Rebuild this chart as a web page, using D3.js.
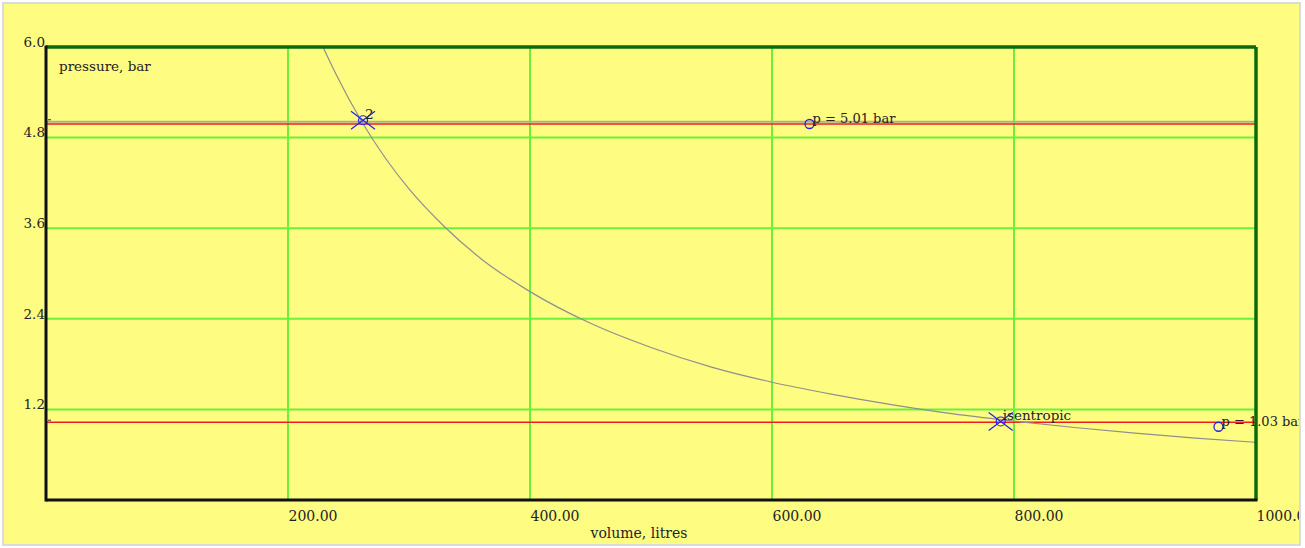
<!DOCTYPE html>
<html>
<head>
<meta charset="utf-8">
<script src="https://cdn.jsdelivr.net/npm/d3@7"></script>
<style>
  body { margin: 0; background: #fff; }
  text { font-family: "DejaVu Serif", "Liberation Serif", serif; fill: #222; }
</style>
</head>
<body>
<div id="chart"></div>
<script>
// volume (litres) and pressure (bar)
const curveVolume = [229, 240, 261, 280, 300, 330, 360, 400, 450, 500, 550, 600, 650, 700, 750, 800, 850, 900, 950, 1000]
const curvePressure = [6.0, 5.63, 5.01, 4.54, 4.12, 3.61, 3.19, 2.76, 2.34, 2.02, 1.76, 1.56, 1.40, 1.26, 1.14, 1.045, 0.96, 0.885, 0.82, 0.764]

const xTicks = [200, 400, 600, 800, 1000]
const yTicks = [1.2, 2.4, 3.6, 4.8, 6.0]

// state points: [volume, pressure, label]
const crossPoints = [[262, 5.03, '2'], [789, 1.04, 'isentropic']]
const circlePoints = [[631, 4.98, 'p = 5.01 bar'], [969, 0.97, 'p = 1.03 bar']]

// level lines
const greyLevels = [5.01]
const redLevels = [4.98, 1.03]

const W = 1305, H = 548
const x = d3.scaleLinear().domain([0, 1000]).range([46, 1256])
const y = d3.scaleLinear().domain([0, 6]).range([500, 47])

const svg = d3.select('#chart').append('svg')
    .attr('width', W)
    .attr('height', H)

svg.append('defs').append('clipPath').attr('id', 'frame')
    .append('rect').attr('x', 4).attr('y', 4).attr('width', 1295).attr('height', 540)

const g = svg.append('g').attr('clip-path', 'url(#frame)')

g.append('rect')
    .attr('x', 3).attr('y', 3).attr('width', 1297).attr('height', 542)
    .attr('fill', '#fffc82')

// grid
const grid = g.append('g')
grid.selectAll('line.vx')
    .data(xTicks.slice(0, -1))
    .join('line')
    .attr('x1', d => x(d)).attr('x2', d => x(d))
    .attr('y1', y(6)).attr('y2', y(0))
    .attr('stroke', '#6af23a').attr('stroke-width', 2)
grid.selectAll('line.hy')
    .data(yTicks.slice(0, -1))
    .join('line')
    .attr('x1', x(0)).attr('x2', x(1000))
    .attr('y1', d => y(d)).attr('y2', d => y(d))
    .attr('stroke', '#6af23a').attr('stroke-width', 2)

// levels
g.selectAll('line.grey')
    .data(greyLevels)
    .join('line')
    .attr('x1', x(0)).attr('x2', x(1000))
    .attr('y1', d => y(d)).attr('y2', d => y(d))
    .attr('stroke', '#b4ae8a').attr('stroke-width', 2)
g.selectAll('line.red')
    .data(redLevels)
    .join('line')
    .attr('x1', x(0)).attr('x2', x(1000))
    .attr('y1', d => y(d)).attr('y2', d => y(d))
    .attr('stroke', '#f21c1c').attr('stroke-width', 1.5)

// small marks at the left axis
g.selectAll('line.mark')
    .data([5.01, 1.03])
    .join('line')
    .attr('x1', x(0) + 2).attr('x2', x(0) + 5)
    .attr('y1', d => y(d) - 2).attr('y2', d => y(d) - 2)
    .attr('stroke', '#333').attr('stroke-width', 1)

// isentropic curve
const pts = curveVolume.map((v, i) => [v, curvePressure[i]])
g.append('path')
    .datum(pts)
    .attr('d', d3.line().x(d => x(d[0])).y(d => y(d[1])).curve(d3.curveMonotoneX))
    .attr('fill', 'none')
    .attr('stroke', '#8f8f8f')
    .attr('stroke-width', 1.2)

// frame of the plot
const frame = g.append('g')
frame.append('line')
    .attr('x1', x(0)).attr('x2', x(1000)).attr('y1', y(6)).attr('y2', y(6))
    .attr('stroke', '#0b6b0b').attr('stroke-width', 3.5)
frame.append('line')
    .attr('x1', x(1000)).attr('x2', x(1000)).attr('y1', y(6)).attr('y2', y(0))
    .attr('stroke', '#0b6b0b').attr('stroke-width', 3.5)
frame.append('line')
    .attr('x1', x(0)).attr('x2', x(0)).attr('y1', y(6) - 1.5).attr('y2', y(0) + 1.5)
    .attr('stroke', '#111').attr('stroke-width', 3)
frame.append('line')
    .attr('x1', x(0)).attr('x2', x(1000) + 1.5).attr('y1', y(0)).attr('y2', y(0))
    .attr('stroke', '#111').attr('stroke-width', 3)

// axes labels
const yAxis = g.append('g')
    .attr('transform', `translate(${x(0)},0)`)
    .call(d3.axisLeft(y).tickValues(yTicks).tickSize(0).tickPadding(1).tickFormat(d3.format('.1f')))
yAxis.select('.domain').remove()
yAxis.selectAll('text')
    .attr('dy', '-0.05em')
    .style('font-size', '13.5px')
    .style('font-family', '"DejaVu Serif", serif')
    .attr('fill', '#222')

const xAxis = g.append('g')
    .attr('transform', `translate(0,${y(0)})`)
    .call(d3.axisBottom(x).tickValues(xTicks).tickSize(0).tickFormat(d3.format('.2f')))
xAxis.select('.domain').remove()
xAxis.selectAll('text')
    .text(d => d === 1000 ? '1000.0' : d3.format('.2f')(d))
    .attr('text-anchor', 'start')
    .attr('y', 21)
    .attr('dy', 0)
    .style('font-size', '14px')
    .style('font-family', '"DejaVu Serif", serif')
    .attr('fill', '#222')

g.append('text')
    .attr('x', 59).attr('y', 71)
    .style('font-size', '13.5px')
    .text('pressure, bar')
g.append('text')
    .attr('x', 639).attr('y', 538)
    .attr('text-anchor', 'middle')
    .style('font-size', '14px')
    .text('volume, litres')

// state points
const blue = '#2222ee'
const cross = g.selectAll('g.cross')
    .data(crossPoints)
    .join('g')
    .attr('transform', d => `translate(${x(d[0])},${y(d[1])})`)
cross.append('path')
    .attr('d', 'M-12,-9L12,9M-12,9L12,-9')
    .attr('stroke', blue).attr('stroke-width', 1.2)
cross.append('circle')
    .attr('r', 4.5).attr('fill', 'none').attr('stroke', blue).attr('stroke-width', 1.2)
cross.append('text')
    .attr('x', 2)
    .attr('y', -1)
    .style('font-size', '13.5px')
    .text(d => d[2])

const circ = g.selectAll('g.circ')
    .data(circlePoints)
    .join('g')
    .attr('transform', d => `translate(${x(d[0])},${y(d[1])})`)
circ.append('circle')
    .attr('r', 4.5).attr('fill', 'none').attr('stroke', blue).attr('stroke-width', 1.3)
circ.append('text')
    .attr('x', 3)
    .attr('y', -1)
    .style('font-size', '13px')
    .text(d => d[2])

// outer border
svg.append('rect')
    .attr('x', 3).attr('y', 3).attr('width', 1297).attr('height', 542)
    .attr('fill', 'none')
    .attr('stroke', '#cfcfcf')
    .attr('stroke-width', 1.5)
</script>
</body>
</html>
